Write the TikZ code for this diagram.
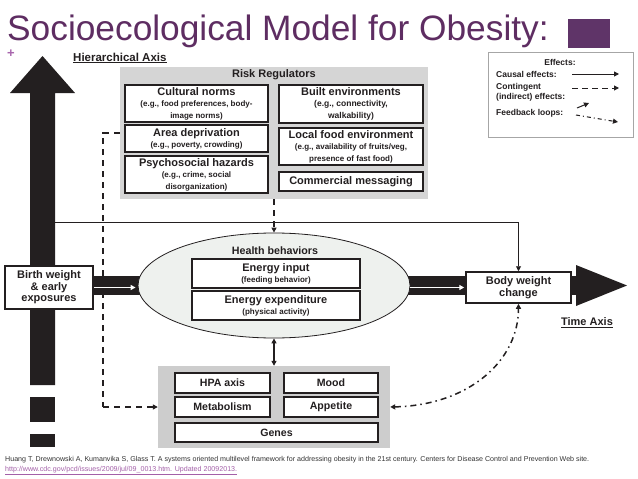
\documentclass[tikz,border=0pt]{standalone}
\usepackage{fontspec}
\setmainfont{Liberation Sans}
\usetikzlibrary{arrows.meta,shapes.geometric}
\definecolor{ttl}{HTML}{5E2D62}
\definecolor{sq}{HTML}{5F3468}
\definecolor{plus}{HTML}{A865AD}
\definecolor{dk}{HTML}{231F20}
\definecolor{gbox}{HTML}{D5D5D5}
\definecolor{gbox2}{HTML}{CDCDCD}
\definecolor{ellf}{HTML}{EEF1EE}
\definecolor{cit}{HTML}{333333}
\definecolor{url}{HTML}{A35FA8}
\newcommand\fsz[2]{\fontsize{#1}{#2}\selectfont}
\newcommand\sm{\fsz{8}{9}}
\tikzset{
  bx/.style={draw=dk, line width=1.5pt, fill=white, align=center, inner sep=0pt, text=dk, font=\bfseries\fsz{11}{12}},
  lbl/.style={inner sep=0pt, text=dk, font=\bfseries\fsz{11}{12}},
  leg/.style={inner sep=0pt, text=dk, anchor=west, font=\bfseries\fsz{8.5}{10}},
  tip/.style={-{Triangle[length=5pt,width=5pt]}},
  dsh/.style={draw=dk, line width=1.5pt, dash pattern=on 6pt off 5pt},
  ddot/.style={draw=dk, line width=1.5pt, dash pattern=on 6pt off 4pt on 1.5pt off 4pt},
  wa/.style={draw=white, line width=1.4pt, -{Triangle[length=5pt,width=5pt]}}
}
\begin{document}
\begin{tikzpicture}[x=1pt,y=-1pt]
\useasboundingbox (0,0) rectangle (638,479);
\fill[white] (0,0) rectangle (638,479);

% title
\node[anchor=base west, inner sep=0pt, text=ttl, font=\fsz{35.3}{40}] (title) at (7,41) {Socioecological Model for Obesity:};
\node[inner sep=0pt, text=plus, font=\bfseries\fsz{13}{13}] (plus) at (11,54) {+};
\fill[sq] (568,19) rectangle (610,48);

% hierarchical axis
\fill[dk] (30,93) -- (10,93) -- (42.5,56) -- (75,93) -- (55,93) -- (55,385) -- (30,385) -- cycle;
\fill[dk] (30,397) rectangle (55,422);
\fill[dk] (30,434) rectangle (55,447);
\node[lbl, anchor=west, font=\bfseries\fsz{11.5}{12}] (hax) at (73,58) {\underline{Hierarchical Axis}};

% horizontal time band
\fill[dk] (90,276) rectangle (577,295);
\fill[dk] (576,265) -- (627,285.5) -- (576,306) -- cycle;
\node[lbl, font=\bfseries\fsz{11}{12}] (tax) at (587,323) {\underline{Time Axis}};

% risk regulators
\node[fill=gbox, minimum width=308pt, minimum height=132pt, inner sep=0pt] (rr) at (274,133) {};
\node[lbl] (rrl) at (274,75) {Risk Regulators};
\node[bx, minimum width=143pt, minimum height=37pt] (cult) at (196.5,103.5) {Cultural norms\\[-1pt]\sm (e.g., food preferences, body-\\\sm image norms)};
\node[bx, minimum width=143pt, minimum height=27pt] (area) at (196.5,138.5) {Area deprivation\\[-1pt]\sm (e.g., poverty, crowding)};
\node[bx, minimum width=143pt, minimum height=37pt] (psy) at (196.5,174.5) {Psychosocial hazards\\[-1pt]\sm (e.g., crime, social\\\sm disorganization)};
\node[bx, minimum width=144pt, minimum height=38pt] (built) at (351,104) {Built environments\\[-1pt]\fsz{8.5}{10}(e.g., connectivity,\\\fsz{8.5}{10}walkability)};
\node[bx, minimum width=144pt, minimum height=37pt] (local) at (351,146.5) {Local food environment\\[-1pt]\sm (e.g., availability of fruits/veg,\\\sm presence of fast food)};
\node[bx, minimum width=144pt, minimum height=19pt] (comm) at (351,181.5) {Commercial messaging};

% health behaviors ellipse
\node[ellipse, draw=dk, line width=0.8pt, fill=ellf, minimum width=272pt, minimum height=105pt, inner sep=0pt] (hb) at (274,285.5) {};
\node[lbl, font=\bfseries\fsz{10.7}{12}] (hbl) at (275,251) {Health behaviors};
\node[bx, minimum width=168pt, minimum height=29pt] (ein) at (276,273.5) {Energy input\\[-1pt]\sm (feeding behavior)};
\node[bx, minimum width=168pt, minimum height=29pt] (eex) at (276,305.5) {Energy expenditure\\[-1pt]\sm (physical activity)};

% birth weight and body weight
\node[bx, minimum width=88pt, minimum height=43pt, font=\bfseries\fsz{11}{11.5}] (birth) at (49,287.5) {Birth weight\\\& early\\exposures};
\node[bx, minimum width=105pt, minimum height=31pt, font=\bfseries\fsz{11}{11.5}] (bw) at (518.5,287.5) {Body weight\\change};

% bottom gray box
\node[fill=gbox2, minimum width=232pt, minimum height=82pt, inner sep=0pt] (bg) at (274,407) {};
\node[bx, minimum width=95pt, minimum height=20pt, font=\bfseries\fsz{10.6}{12}] (hpa) at (222.5,383) {HPA axis};
\node[bx, minimum width=94pt, minimum height=20pt, font=\bfseries\fsz{10.6}{12}] (mood) at (331,383) {Mood};
\node[bx, minimum width=95pt, minimum height=20pt, font=\bfseries\fsz{10.6}{12}] (met) at (222.5,407) {Metabolism};
\node[bx, minimum width=94pt, minimum height=20pt, font=\bfseries\fsz{10.6}{12}] (app) at (331,407) {Appetite};
\node[bx, minimum width=203pt, minimum height=19pt, font=\bfseries\fsz{10.6}{12}] (genes) at (276.5,432.5) {Genes};

% connectors
\coordinate (axr) at (55,222);
\draw[draw=dk, line width=0.9pt, tip] (axr) -| (bw.north);
\draw[dsh, tip] (rr.south) -- (hb.north);
\coordinate (cl) at (103,407);
\draw[dsh] (rr.west) -| (cl);
\draw[dsh, tip] (cl) -- (bg.west);
\draw[draw=dk, line width=1.5pt, {Triangle[length=5pt,width=5pt]}-{Triangle[length=5pt,width=5pt]}] (hb.south) -- (bg.north);
\draw[ddot, {Triangle[length=5pt,width=5pt]}-{Triangle[length=5pt,width=5pt]}] (bg.east) .. controls (470,405) and (518.5,360) .. (bw.south);
\draw[wa, shorten >=2pt] (birth.east) -- (birth.east -| hb.west);
\draw[wa, shorten >=1pt] (hb.east |- bw.west) -- (bw.west);

% legend
\node[draw=gray!70, line width=1pt, fill=white, minimum width=145pt, minimum height=85pt, inner sep=0pt] (legbox) at (560.5,94.5) {};
\node[leg, anchor=center] (leff) at (560,62) {Effects:};
\node[leg] (lc) at (496,74) {Causal effects:};
\node[leg] (lg1) at (496,87) {Contingent};
\node[leg] (lg2) at (496,97) {(indirect) effects:};
\node[leg] (lf) at (496,113) {Feedback loops:};
\coordinate (a1) at (572,74); \coordinate (a2) at (619,74);
\draw[draw=dk, line width=1pt, tip] (a1) -- (a2);
\coordinate (b1) at (572,88); \coordinate (b2) at (619,88);
\draw[draw=dk, line width=1pt, dash pattern=on 6pt off 4pt, tip] (b1) -- (b2);
\coordinate (c1) at (577,108); \coordinate (c2) at (589,103);
\draw[draw=dk, line width=1pt, tip] (c1) -- (c2);
\coordinate (d1) at (576,115); \coordinate (d2) at (618,122);
\draw[draw=dk, line width=1pt, dash pattern=on 4pt off 3pt on 1pt off 3pt, tip] (d1) -- (d2);

% citation
\node[anchor=base west, inner sep=0pt, text=cit, font=\fsz{7.1}{8}] (cit1) at (5,461) {Huang T, Drewnowski A, Kumanvika S, Glass T. A systems oriented multilevel framework for addressing obesity in the 21st century. Centers for Disease Control and Prevention Web site.};
\node[anchor=base west, inner sep=0pt, text=url, font=\fsz{7.1}{8}] (cit2) at (5,471.5) {\underline{http://www.cdc.gov/pcd/issues/2009/jul/09\_0013.htm. Updated 20092013.}};
\end{tikzpicture}
\end{document}
